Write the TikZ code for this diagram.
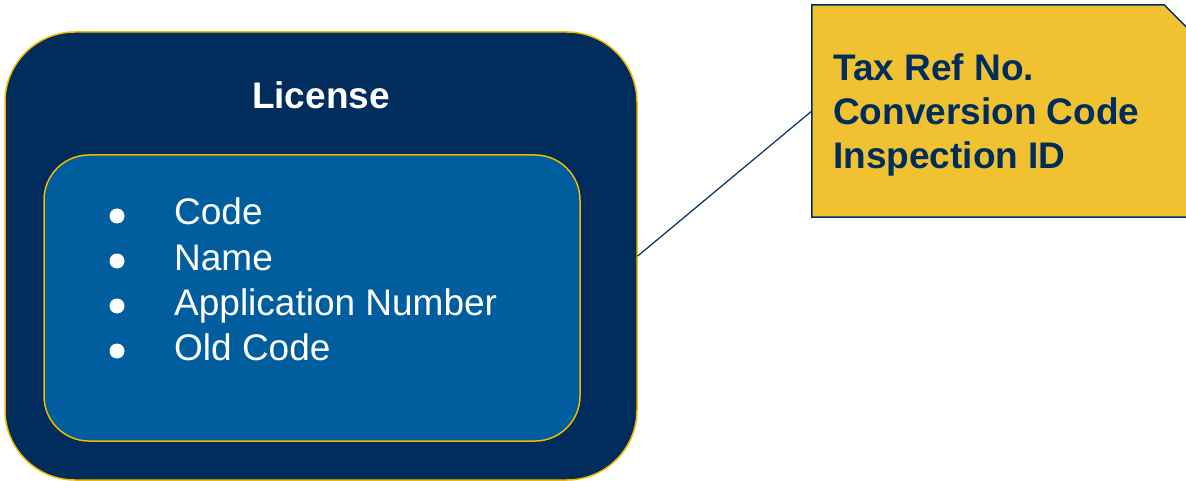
\documentclass[tikz,border=0pt]{standalone}
\usepackage{fontspec}
\setmainfont{Liberation Sans}
\definecolor{navy}{RGB}{0,45,92}
\definecolor{midblue}{RGB}{0,94,158}
\definecolor{gold}{RGB}{245,184,0}
\definecolor{notefill}{RGB}{240,194,50}

\begin{document}
\begin{tikzpicture}[x=1pt,y=-1pt,line join=round,line cap=round,
  outerbox/.style={draw=gold,fill=navy,line width=1.5pt,rounded corners=70pt,minimum width=632pt,minimum height=448pt},
  innerbox/.style={draw=gold,fill=midblue,line width=1.5pt,rounded corners=45pt,minimum width=536pt,minimum height=286pt},
  notebox/.style={inner sep=0pt,minimum width=388pt,minimum height=212pt},
  noteshape/.style={draw=navy,fill=notefill,line width=1.5pt,line join=miter},
  title/.style={text=white,inner sep=0pt,font={\fontsize{37}{44}\selectfont\bfseries}},
  item/.style={text=white,inner sep=0pt,anchor=base west,font={\fontsize{37}{44}\selectfont}},
  notetext/.style={text=navy,inner sep=0pt,anchor=base west,font={\fontsize{37}{44}\selectfont\bfseries}},
  link/.style={draw=navy,line width=1.2pt}]
\useasboundingbox (0,0) rectangle (1186,481);
\clip (0,0) rectangle (1186,481);
% boxes
\node[outerbox] (license) at (321,256) {};
\node[innerbox] (fields) at (312,298) {};
\node[title,anchor=base] (head) at (321,109) {License};
\foreach \t [count=\i] in {Code,Name,Application Number,Old Code}{
  \fill[white] (117,{216+45*(\i-1)}) circle (7.5pt);
  \node[item] (item\i) at (174,{225+45*(\i-1)}) {\t};}
% note
\node[notebox] (note) at (1006,111) {};
\path[noteshape] (note.south west) -- (note.north west) -- ([xshift=-36pt]note.north east)
  -- ([yshift=-36pt]note.north east) -- (note.south east) -- cycle;
\foreach \t [count=\i] in {Tax Ref No.,Conversion Code,Inspection ID}
  \node[notetext] (line\i) at (833,{81+44*(\i-1)}) {\t};
\draw[link] (license.east) -- (note.west);
\end{tikzpicture}
\end{document}
